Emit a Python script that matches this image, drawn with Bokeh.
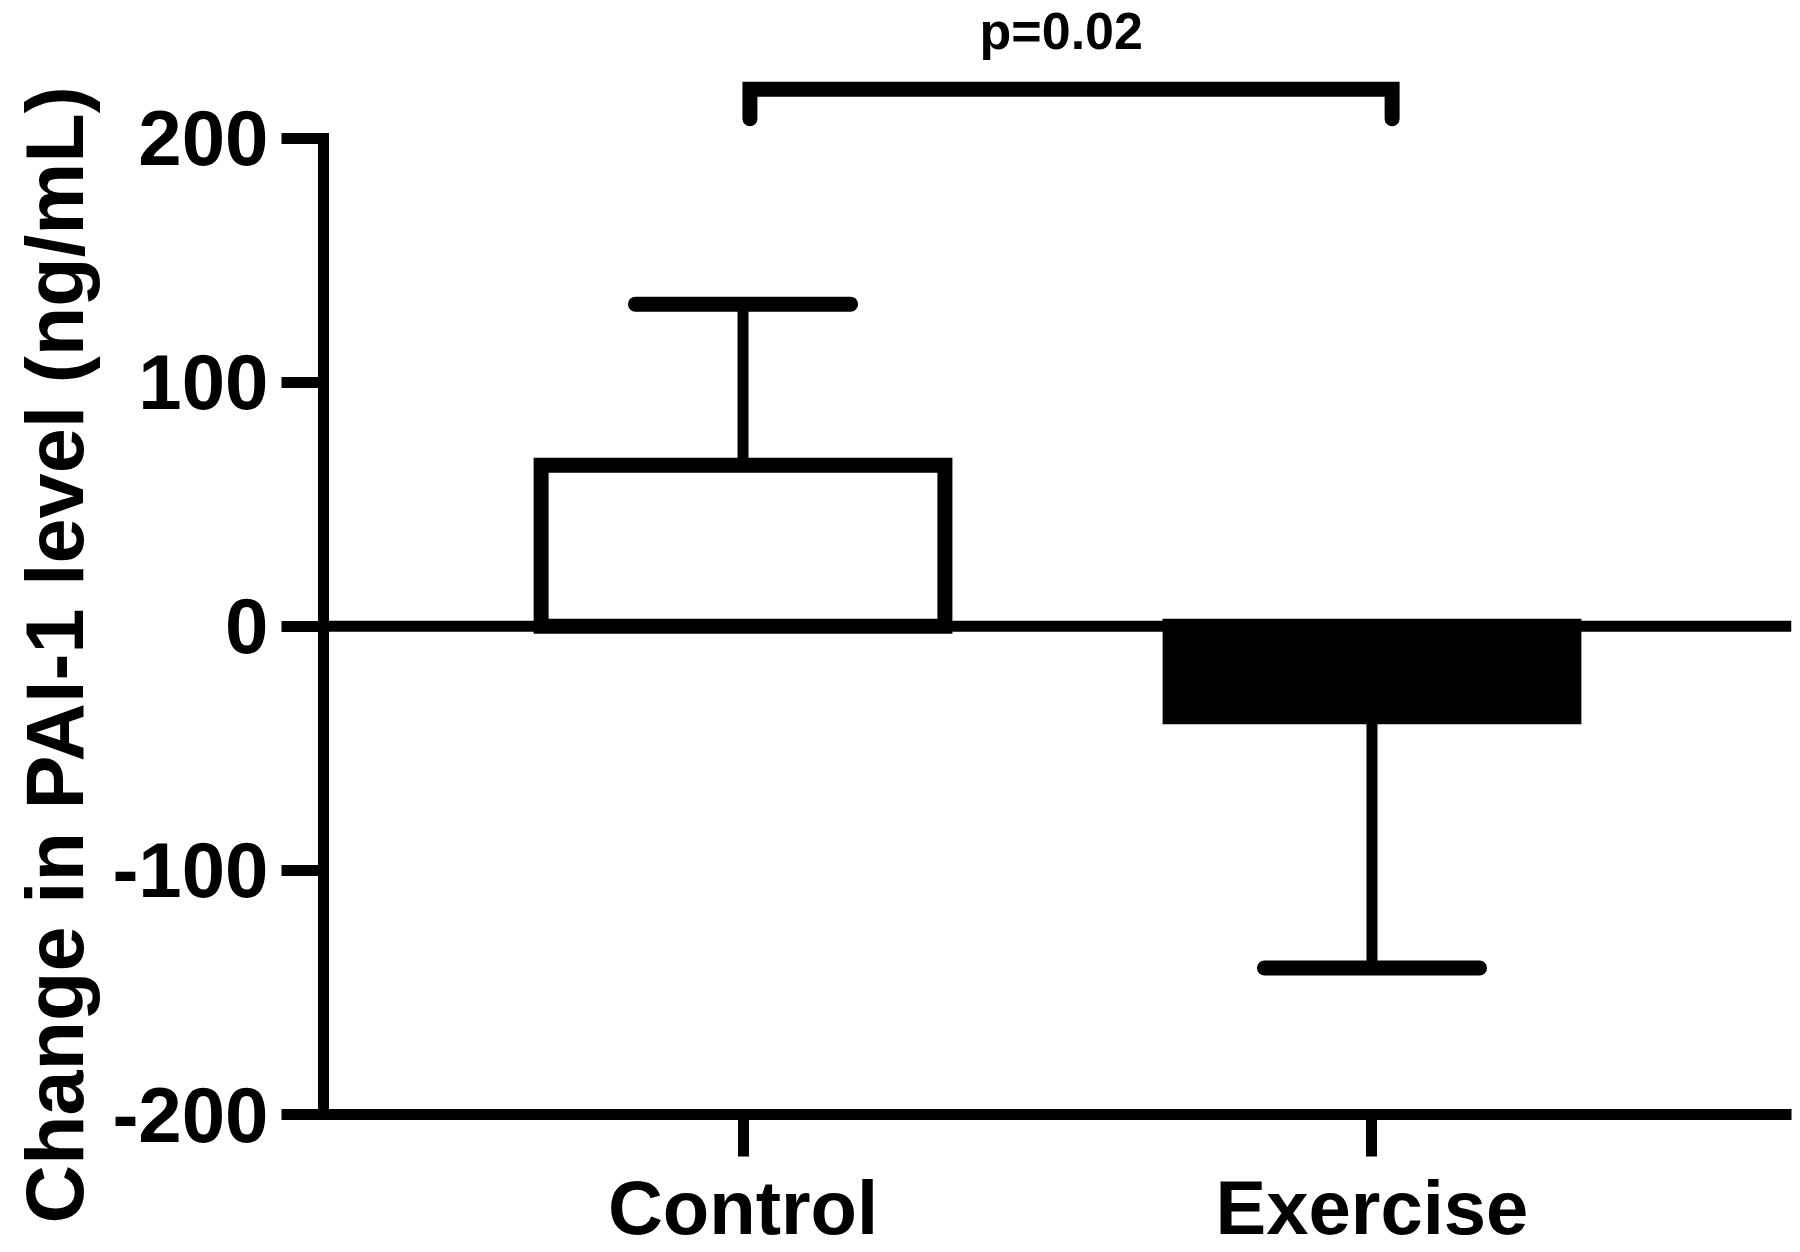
from bokeh.plotting import figure
from bokeh.models import FactorRange, Range1d, Span, Title, FixedTicker
from bokeh.core.properties import value
from bokeh.embed import file_html
from bokeh.resources import INLINE

# ---- data ----
categories = ["Control", "Exercise"]
mean_change = [66, -37]
sem = [66, 103]
y_ticks = [-200, -100, 0, 100, 200]
y_tick_labels = {-200: "-200", -100: "-100", 0: "0", 100: "100", 200: "200"}
y_title = "Change in PAI-1 level (ng/mL)"
p_label = "p=0.02"
bracket_y = 220
bracket_leg_y = 208
p_label_y = 244

FONT = "Liberation Sans"

p = figure(
    x_range=FactorRange(*categories, range_padding=0.167, range_padding_units="absolute"),
    y_range=Range1d(-200, 256.4),
    width=1800, height=1252,
    output_backend="svg", toolbar_location=None,
    min_border_left=323, min_border_right=9, min_border_top=0, min_border_bottom=135,
)
p.outline_line_color = None
p.grid.visible = False
p.background_fill_color = "white"
p.border_fill_color = "white"

centers = [i + 0.5 for i in range(len(categories))]
tips = [m + s if m >= 0 else m - s for m, s in zip(mean_change, sem)]

# bars
p.vbar(x=categories, top=mean_change, bottom=0, width=0.642,
       fill_color=["white", "black"], line_color="black", line_width=15,
       line_join="miter")

# zero line
p.add_layout(Span(location=0, dimension="width", line_color="black", line_width=11))

# error stems and caps
p.segment(x0=categories, y0=mean_change, x1=categories, y1=tips,
          line_color="black", line_width=11)
cap_half = 0.171
p.segment(x0=[c - cap_half for c in centers], y0=tips,
          x1=[c + cap_half for c in centers], y1=tips,
          line_color="black", line_width=15, line_cap="round")

# significance bracket
bx0 = centers[0] + 0.011
bx1 = centers[1] + 0.032
p.line(x=[bx0, bx0, bx1, bx1], y=[bracket_leg_y, bracket_y, bracket_y, bracket_leg_y],
       line_color="black", line_width=15, line_join="miter", line_cap="round")
p.text(x=[(centers[0] + centers[1]) / 2 + 0.006], y=[p_label_y], text=[p_label],
       text_font=value(FONT), text_font_style="bold", text_font_size="52px",
       text_align="center", text_baseline="alphabetic", text_color="black")

# axes styling
for ax in (p.xaxis[0], p.yaxis[0]):
    ax.axis_line_width = 11
    ax.axis_line_color = "black"
    ax.major_tick_line_width = 11
    ax.major_tick_line_color = "black"
    ax.major_tick_out = 42
    ax.major_tick_in = 0
    ax.minor_tick_line_color = None
    ax.major_label_text_font = FONT
    ax.major_label_text_font_style = "bold"
    ax.major_label_text_color = "black"

p.yaxis[0].ticker = FixedTicker(ticks=y_ticks)
p.yaxis[0].major_label_overrides = y_tick_labels
p.yaxis[0].bounds = (-200, 200)
p.yaxis[0].axis_line_cap = "square"
p.yaxis[0].major_label_standoff = 13
p.yaxis[0].major_label_text_font_size = "78px"
p.xaxis[0].major_label_standoff = 8
p.xaxis[0].major_label_text_font_size = "76px"

# y-axis title
p.add_layout(Title(text=y_title, align="left", offset=-109, vertical_align="top",
                   standoff=16, text_font_size="81px", text_font=FONT,
                   text_font_style="bold", text_color="black"), "left")

open("out.html", "w").write(file_html(p, INLINE))
